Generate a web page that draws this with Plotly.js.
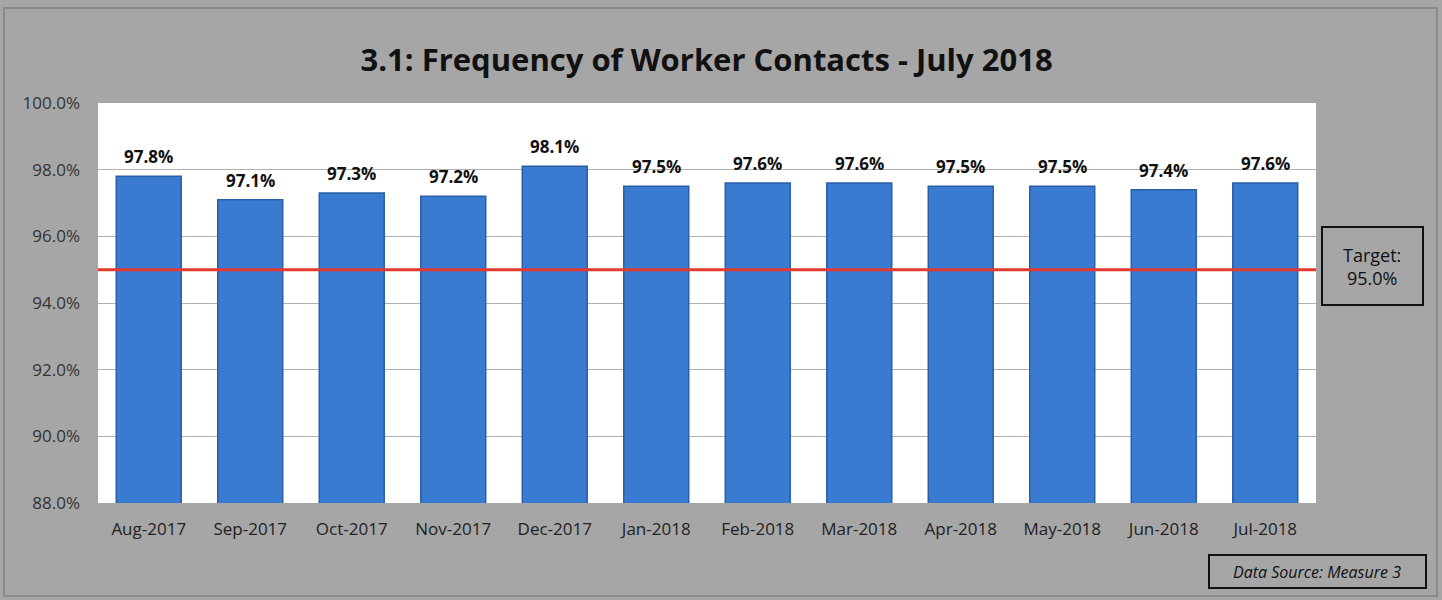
<!DOCTYPE html>
<html>
<head>
<meta charset="utf-8">
<script src="https://cdn.plot.ly/plotly-3.0.1.min.js"></script>
<style>html,body{margin:0;padding:0;background:#a6a6a6;}#chart{width:1442px;height:600px;}</style>
</head>
<body>
<div id="chart"></div>
<script>
const months = ["Aug-2017","Sep-2017","Oct-2017","Nov-2017","Dec-2017","Jan-2018","Feb-2018","Mar-2018","Apr-2018","May-2018","Jun-2018","Jul-2018"];
const contactRate = [97.8, 97.1, 97.3, 97.2, 98.1, 97.5, 97.6, 97.6, 97.5, 97.5, 97.4, 97.6];
const targetRate = 95.0;
const yTicks = [88, 90, 92, 94, 96, 98, 100];

const fontFam = "'Open Sans', 'Noto Sans', sans-serif";

const traces = [{
  type: 'bar',
  x: months,
  y: contactRate,
  marker: {color: '#3a7bd2', line: {color: '#2a5ea8', width: 1.5}},
  hoverinfo: 'x+y'
}];

const labelAnns = months.map((m, i) => ({
  x: m, y: contactRate[i], xref: 'x', yref: 'y',
  text: '<b>' + contactRate[i].toFixed(1) + '%</b>',
  showarrow: false, xanchor: 'center', yanchor: 'bottom', yshift: 6,
  font: {family: fontFam, size: 17, color: '#111'}
}));

const layout = {
  width: 1442, height: 600,
  margin: {l: 98, r: 126, t: 103, b: 97},
  paper_bgcolor: '#a6a6a6',
  plot_bgcolor: '#ffffff',
  bargap: 0.36,
  showlegend: false,
  title: {text: '<b>3.1: Frequency of Worker Contacts - July 2018</b>', x: 0.49, xanchor: 'center', y: 0.9, yanchor: 'middle', font: {family: fontFam, size: 31, color: '#111'}},
  xaxis: {type: 'category', showgrid: false, showline: false, ticks: '', ticklabelstandoff: 14, tickfont: {family: fontFam, size: 17, color: '#222'}, automargin: false},
  yaxis: {range: [88, 100], tickvals: yTicks, ticktext: yTicks.map(v => v.toFixed(1) + '%'), showgrid: true, gridcolor: '#b0b0b0', gridwidth: 1, zeroline: false, showline: false, ticks: '', ticklabelstandoff: 17, tickfont: {family: fontFam, size: 17, color: '#333'}, automargin: false},
  shapes: [
    {type: 'line', xref: 'paper', x0: 0, x1: 1, yref: 'y', y0: targetRate, y1: targetRate, line: {color: '#e23a2e', width: 3}},
    {type: 'rect', xref: 'paper', yref: 'paper', x0: (1322-98)/1218, x1: (1423-98)/1218, y0: (503-305)/400, y1: (503-227)/400, line: {color: '#111', width: 2}, fillcolor: 'rgba(0,0,0,0)'},
    {type: 'rect', xref: 'paper', yref: 'paper', x0: (1209-98)/1218, x1: (1426-98)/1218, y0: (503-588)/400, y1: (503-555)/400, line: {color: '#111', width: 2}, fillcolor: 'rgba(0,0,0,0)'},
    {type: 'rect', xref: 'paper', yref: 'paper', x0: (4-98)/1218, x1: (1437-98)/1218, y0: (503-596)/400, y1: (503-8)/400, line: {color: '#8a8a8a', width: 2}, fillcolor: 'rgba(0,0,0,0)', layer: 'below'}
  ],
  annotations: labelAnns.concat([
    {xref: 'paper', yref: 'paper', x: (1372-98)/1218, y: (503-266)/400, text: 'Target:<br>95.0%', showarrow: false, align: 'center', xanchor: 'center', yanchor: 'middle', font: {family: fontFam, size: 18, color: '#111'}},
    {xref: 'paper', yref: 'paper', x: (1317-98)/1218, y: (503-572)/400, text: '<i>Data Source: Measure 3</i>', showarrow: false, xanchor: 'center', yanchor: 'middle', font: {family: fontFam, size: 16, color: '#111'}}
  ])
};

Plotly.newPlot('chart', traces, layout, {displayModeBar: false, staticPlot: true});
</script>
</body>
</html>
